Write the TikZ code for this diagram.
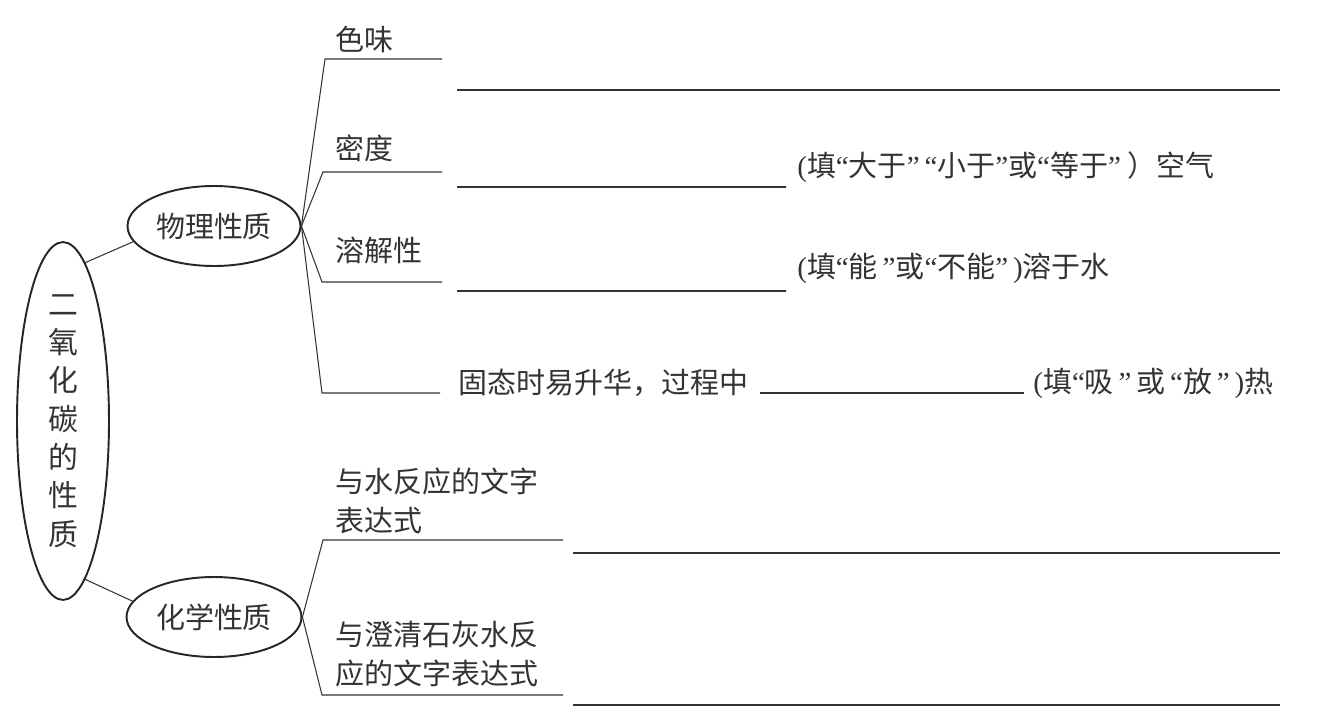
\documentclass[tikz,border=0pt]{standalone}
\usepackage{fontspec}
\newfontfamily\cjk{Noto Sans CJK SC}
\newfontfamily\qfont{Liberation Serif}
\newcommand\lquo{{\qfont “}}
\newcommand\rquo{{\qfont ”}}
\newcommand\lpar{{\qfont (}}
\newcommand\rpar{{\qfont )}}
\usetikzlibrary{shapes.geometric}

\begin{document}
\begin{tikzpicture}[x=0.02cm,y=-0.02cm,
  every node/.style={font=\cjk\fontsize{16.5}{22}\selectfont, text=black!80},
  lbl/.style={anchor=west, inner sep=0pt},
  oval/.style={draw=black!85, ellipse, line width=1.1pt, inner sep=0pt}]
\useasboundingbox (0,0) rectangle (1340,724);
% ellipses
\node[oval, minimum width=1.84cm, minimum height=6.36cm, align=center,
  font=\cjk\fontsize{17}{21.8}\selectfont] (co2) at (63,421)
  {二\\氧\\化\\碳\\的\\性\\质};
\node[oval, minimum width=3.46cm, minimum height=1.6cm] (wuli) at (214,226) {物理性质};
\node[oval, minimum width=3.5cm, minimum height=1.6cm] (huaxue) at (214,617) {化学性质};
\draw[black!80, line width=0.6pt] (co2.82) -- (wuli.191);
\draw[black!80, line width=0.6pt] (co2.-82) -- (huaxue.169);
% physical branches
\coordinate (sewei) at (325,59);
\coordinate (midu) at (323,172);
\coordinate (rongjie) at (322,282);
\coordinate (shenghua) at (322,393);
\draw[black!80, line width=0.6pt] (wuli.east) -- (sewei) -- ++(117,0);
\draw[black!80, line width=0.6pt] (wuli.east) -- (midu) -- ++(119,0);
\draw[black!80, line width=0.6pt] (wuli.east) -- (rongjie) -- ++(120,0);
\draw[black!80, line width=0.6pt] (wuli.east) -- (shenghua) -- ++(118,0);
\node[lbl] (t1) at (335,39) {色味};
\node[lbl] (t2) at (335,148) {密度};
\node[lbl] (t3) at (335,250) {溶解性};
% answer lines
\draw[black!80, line width=0.6pt] (457,90) -- (1280,90);
\draw[black!80, line width=0.6pt] (457,187) -- (786,187);
\draw[black!80, line width=0.6pt] (457,291) -- (786,291);
\draw[black!80, line width=0.6pt] (760,393) -- (1024,393);
\node[lbl] (a2) at (797,167) {\lpar 填\lquo 大于\rquo\,\lquo 小于\rquo 或\lquo 等于\rquo\ ）空气};
\node[lbl] (a3) at (797,268) {\lpar 填\lquo 能\,\rquo 或\lquo 不能\rquo\,\rpar 溶于水};
\node[lbl] (a4) at (458,383) {固态时易升华，过程中};
\node[lbl] (a5) at (1033,383) {\lpar 填\lquo 吸\,\rquo\,或\,\lquo 放\,\rquo\,\rpar 热};
% chemical branches
\coordinate (yushui) at (323,540);
\coordinate (shihui) at (322,695);
\draw[black!80, line width=0.6pt] (huaxue.east) -- (yushui) -- ++(240,0);
\draw[black!80, line width=0.6pt] (huaxue.east) -- (shihui) -- ++(241,0);
\node[lbl, align=left, font=\cjk\fontsize{16.5}{21.8}\selectfont] (t5) at (335,501) {与水反应的文字\\表达式};
\node[lbl, align=left, font=\cjk\fontsize{16.5}{21.8}\selectfont] (t6) at (335,654) {与澄清石灰水反\\应的文字表达式};
\draw[black!80, line width=0.6pt] (573,553) -- (1280,553);
\draw[black!80, line width=0.6pt] (573,705) -- (1280,705);
\end{tikzpicture}
\end{document}
